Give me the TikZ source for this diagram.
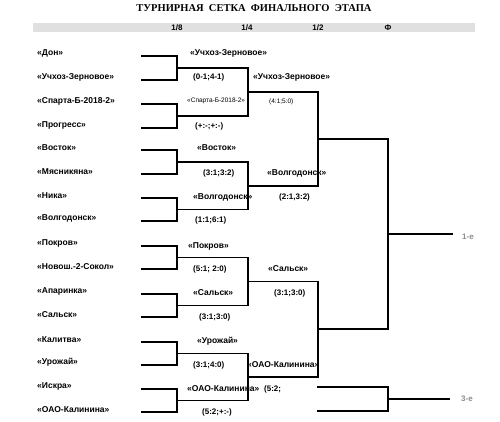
\documentclass[tikz,border=0pt]{standalone}
\usepackage{fontspec}
\usetikzlibrary{calc}
\setmainfont{Liberation Sans}
\newfontfamily\titlefont{Liberation Serif}
\begin{document}
\begin{tikzpicture}[x=1pt,y=-1pt,
  team/.style={anchor=west,inner sep=0pt,font=\fontsize{8.5}{9}\selectfont\bfseries},
  score/.style={anchor=west,inner sep=0pt,font=\fontsize{8}{9}\selectfont\bfseries},
  tinytxt/.style={anchor=west,inner sep=0pt,font=\fontsize{6.5}{7}\selectfont},
  head/.style={inner sep=0pt,font=\fontsize{8}{9}\selectfont\bfseries},
  place/.style={anchor=west,inner sep=0pt,text=black!45,font=\fontsize{8}{9}\selectfont\bfseries},
  br/.style={line width=1.8pt,line join=miter,line cap=rect},
  ]
\useasboundingbox (0,0) rectangle (500,422);
% title and header band
\node[inner sep=0pt,font=\titlefont\fontsize{10.5}{12}\selectfont\bfseries] (title) at (254,8) {ТУРНИРНАЯ\ \ СЕТКА\ \ ФИНАЛЬНОГО\ \ ЭТАПА};
\fill[black!12] (33,23) rectangle (475,32);
\node[head] (h8) at (177,27.5) {1/8};
\node[head] (h4) at (247,27.5) {1/4};
\node[head] (h2) at (318,27.5) {1/2};
\node[head] (hf) at (388,27.5) {Ф};
% round of 16 teams
\foreach \n/\y/\t in {1/56/«Дон»,2/80/«Учхоз-Зерновое»,3/104/«Спарта-Б-2018-2»,4/128/«Прогресс»,
  5/150/«Восток»,6/174/«Мясникяна»,7/198/«Ника»,8/221/«Волгодонск»,
  9/246/«Покров»,10/269/«Новош.-2-Сокол»,11/294/«Апаринка»,12/317/«Сальск»,
  13/342/«Калитва»,14/365/«Урожай»,15/389/«Искра»,16/412/«ОАО-Калинина»}{
  \node[team] (t\n) at (37,\y-2.5) {\t};
  \coordinate (s\n) at (142,\y);
}
% R16 brackets
\foreach \a/\b/\m in {1/2/1,3/4/2,5/6/3,7/8/4,9/10/5,11/12/6,13/14/7,15/16/8}{
  \draw[br] (s\a) -- ++(35,0) |- (s\b);
  \coordinate (q\m) at ($(s\a)!0.5!(s\b)+(35,0)$);
}
% quarter brackets
\foreach \a/\b/\m in {1/2/1,3/4/2,5/6/3,7/8/4}{
  \coordinate (qe\a) at ($(q\a)+(71,0)$);
  \coordinate (qe\b) at ($(q\b)+(71,0)$);
  \draw[br] (q\a) -- (qe\a) -- (qe\b) -- (q\b);
  \coordinate (h\m) at ($(qe\a)!0.5!(qe\b)$);
}
% semi brackets
\foreach \a/\b/\m in {1/2/1,3/4/2}{
  \coordinate (he\a) at ($(h\a)+(70,0)$);
  \coordinate (he\b) at ($(h\b)+(70,0)$);
  \draw[br] (h\a) -- (he\a) -- (he\b) -- (h\b);
  \coordinate (f\m) at ($(he\a)!0.5!(he\b)$);
}
% final
\coordinate (fe1) at ($(f1)+(70,0)$);
\coordinate (fe2) at ($(f2)+(70,0)$);
\draw[br] (f1) -- (fe1) -- (fe2) -- (f2);
\coordinate (fm) at ($(fe1)!0.5!(fe2)$);
\node[place] (first) at (462,237) {1-е};
\coordinate (fend) at (452,0 |- fm);
\draw[br] (fm) -- (fend);
% third place
\coordinate (b1) at (318,387);
\coordinate (b2) at (318,411);
\coordinate (bt) at (388,387);
\coordinate (bb) at (388,411);
\coordinate (bm) at (388,399);
\coordinate (bend) at (449,399);
\draw[br] (b1) -- (bt) -- (bb) -- (b2);
\node[place] (third) at (461,399) {3-е};
\draw[br] (bm) -- (bend);
% quarter labels
\node[team] (w1) at (190,53) {«Учхоз-Зерновое»};
\node[score] (c1) at (193,77) {(0-1;4-1)};
\node[tinytxt] (w2) at (187,101) {«Спарта-Б-2018-2»};
\node[score] (c2) at (195,126) {(+:-;+:-)};
\node[team] (w3) at (197,148) {«Восток»};
\node[score] (c3) at (203,173) {(3:1;3:2)};
\node[team] (w4) at (193,197) {«Волгодонск»};
\node[score] (c4) at (195,220) {(1:1;6:1)};
\node[team] (w5) at (188,246) {«Покров»};
\node[score] (c5) at (193,269) {(5:1; 2:0)};
\node[team] (w6) at (193,293) {«Сальск»};
\node[score] (c6) at (199,317) {(3:1;3:0)};
\node[team] (w7) at (197,341) {«Урожай»};
\node[score] (c7) at (193,365) {(3:1;4:0)};
\node[team] (w8) at (187,389) {«ОАО-Калинина»};
\node[score] (c8) at (202,412) {(5:2;+:-)};
% semi labels
\node[team] (v1) at (253,77) {«Учхоз-Зерновое»};
\node[tinytxt] (d1) at (269,102) {(4:1;5:0)};
\node[team] (v2) at (267,173) {«Волгодонск»};
\node[score] (d2) at (279,197) {(2:1,3:2)};
\node[team] (v3) at (268,269) {«Сальск»};
\node[score] (d3) at (274,293) {(3:1;3:0)};
\node[team] (v4) at (247,365) {«ОАО-Калинина»};
\node[score] (d4) at (264,389) {(5:2;};
\end{tikzpicture}
\end{document}
